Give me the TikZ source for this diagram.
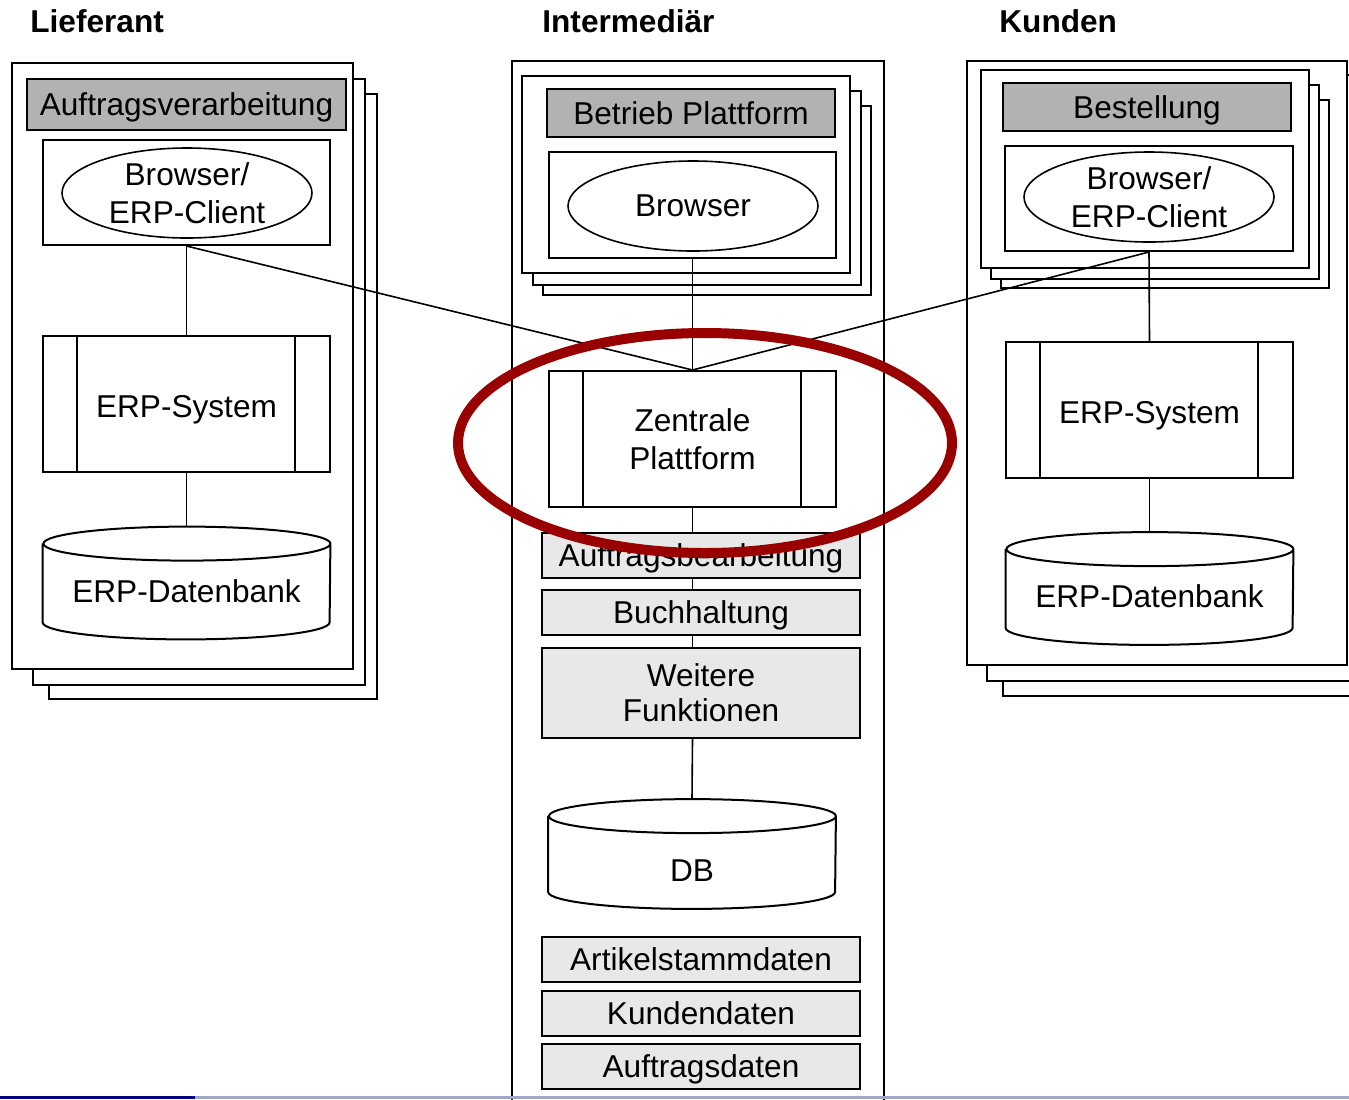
\documentclass[tikz,border=0pt]{standalone}
\usepackage{fontspec}
\setmainfont{Liberation Sans}
\usetikzlibrary{shapes.geometric, positioning, fit}
\newcommand{\mdfont}{\fontsize{15.8}{19}\selectfont}
\definecolor{navybar}{RGB}{0,0,128}
\definecolor{palebar}{RGB}{160,168,200}
\tikzstyle{frame} = [draw, line width=1pt, fill=white, inner sep=0pt]
\tikzstyle{head} = [draw, line width=1pt, fill=black!30, minimum width=144pt, minimum height=24pt, inner sep=0pt, text height=11.3pt, text depth=0pt, font=\mdfont]
\tikzstyle{funcbox} = [draw, line width=1pt, fill=black!9, minimum width=159pt, minimum height=22.5pt, inner sep=0pt, align=center, font=\mdfont]
\tikzstyle{func} = [funcbox, text height=11.3pt, text depth=0pt]
\tikzstyle{client} = [ellipse, draw, line width=0.8pt, minimum width=125pt, minimum height=45pt, inner sep=0pt, align=center, font=\mdfont]
\tikzstyle{system} = [rectangle, draw, line width=1pt, fill=white, minimum width=143.5pt, minimum height=68pt, align=center, font=\mdfont,
  path picture={\draw[line width=1pt] ([xshift=17pt]path picture bounding box.north west) -- ([xshift=17pt]path picture bounding box.south west)
    ([xshift=-17.5pt]path picture bounding box.north east) -- ([xshift=-17.5pt]path picture bounding box.south east);}]
\tikzstyle{db} = [minimum width=143.5pt, minimum height=56pt, inner sep=0pt, text depth=0pt, font=\mdfont,
  append after command={\pgfextra{\draw[line width=1pt]
    ([yshift=-8.5pt]\tikzlastnode.north west) -- ([yshift=8.5pt]\tikzlastnode.south west)
    arc[start angle=180, end angle=360, x radius=71.75pt, y radius=8.5pt]
    -- ([yshift=-8.5pt]\tikzlastnode.north east)
    arc[start angle=0, end angle=180, x radius=71.75pt, y radius=8.5pt]
    arc[start angle=180, end angle=360, x radius=71.75pt, y radius=8.5pt];}}]
\tikzstyle{line} = [line width=0.8pt]
\tikzstyle{title} = [anchor=west, inner sep=0pt, font=\mdfont\bfseries]
\tikzstyle{focus} = [ellipse, draw=red!60!black, line width=5pt, minimum width=247pt, minimum height=110pt, inner sep=0pt]

\begin{document}
\begin{tikzpicture}[x=0.5pt, y=-0.5pt, node distance = 5pt]
		\useasboundingbox (0,0) rectangle (1349,1099);
		\clip (0,0) rectangle (1349,1099);

		% Lieferant
		\node (supplier) [title] at (30,21) {Lieferant};
		\node (lstack3) [frame, fit={(49,94) (377,699)}] {};
		\node (lstack2) [frame, fit={(33,79) (365,685)}] {};
		\node (lstack1) [frame, fit={(12,63) (353,669)}] {};
		\node (lhead) [head, minimum width=159.5pt, minimum height=25.5pt] at (186.5,104.5) {Auftragsverarbeitung};
		\node (lbrowserbox) [frame, fit={(43,140) (330,245)}] {};
		\node (lclient) [client] at (187,193) {Browser/\\ERP-Client};
		\node (lsystem) [system, text height=13.3pt, text depth=0pt] at (186.5,404) {ERP-System};
		\node (ldb) [db, text height=19.3pt] at (186.5,583) {ERP-Datenbank};

		% Intermediaer
		\node (intermediary) [title] at (542,21) {Intermediär};
		\node (mframe) [frame, fit={(512,61) (884,1130)}] {};
		\node (mstack3) [frame, fit={(543,106) (871,295)}] {};
		\node (mstack2) [frame, fit={(533,91) (861,285)}] {};
		\node (mstack1) [frame, fit={(522,76) (850,273)}] {};
		\node (mhead) [head] at (691,113) {Betrieb Plattform};
		\node (mbrowserbox) [frame, fit={(549,152) (836,258)}] {};
		\node (mclient) [client] at (693,206) {Browser};
		\node (platform) [system] at (692.5,439) {Zentrale\\Plattform};
		\node (orders) [func] at (701,555.5) {Auftragsbearbeitung};
		\node (accounting) [func, below = of orders] {Buchhaltung};
		\node (further) [funcbox, below = 5.5pt of accounting, minimum height=45pt, font=\fontsize{15.8}{17.5}\selectfont] {Weitere\\Funktionen};
		\node (mdb) [db, minimum height=54.5pt, text height=27.8pt] at (692,854) {DB};
		\node (articles) [func] at (701,959.5) {Artikelstammdaten};
		\node (customers) [func, below = 3.5pt of articles] {Kundendaten};
		\node (orderdata) [func, below = 3pt of customers] {Auftragsdaten};

		% Kunden
		\node (customer) [title] at (999,21) {Kunden};
		\node (rstack3) [frame, fit={(1003,92) (1390,696)}] {};
		\node (rstack2) [frame, fit={(987,75) (1370,681)}] {};
		\node (rstack1) [frame, fit={(967,61) (1347,665)}] {};
		\node (rin3) [frame, fit={(1001,100) (1329,288)}] {};
		\node (rin2) [frame, fit={(991,85) (1319,279)}] {};
		\node (rin1) [frame, fit={(981,70) (1309,268)}] {};
		\node (rhead) [head] at (1147,107) {Bestellung};
		\node (rbrowserbox) [frame, fit={(1005,146) (1293,251)}] {};
		\node (rclient) [client] at (1149,197) {Browser/\\ERP-Client};
		\node (rsystem) [system, text height=13.3pt, text depth=0pt] at (1149.5,410) {ERP-System};
		\node (rdb) [db, text height=19.3pt] at (1149.5,588.5) {ERP-Datenbank};

		% connectors
		\draw [line] (lbrowserbox.south) -- (lsystem.north);
		\draw [line] (lsystem.south) -- (ldb.north);
		\draw [line] (rbrowserbox.south) -- (rsystem.north);
		\draw [line] (rsystem.south) -- (rdb.north);
		\draw [line] (lbrowserbox.south) -- (platform.north);
		\draw [line] (mbrowserbox.south) -- (platform.north);
		\draw [line] (rbrowserbox.south) -- (platform.north);
		\draw [line] (platform.south) -- (platform.south |- orders.north);
		\draw [line] (platform.south |- orders.south) -- (platform.south |- accounting.north);
		\draw [line] (platform.south |- accounting.south) -- (platform.south |- further.north);
		\draw [line] (platform.south |- further.south) -- (mdb.north);

		\node (highlight) [focus] at (705,443) {};

		\fill [navybar] (0,1096) rectangle (195,1099);
		\fill [palebar] (195,1096) rectangle (1349,1099);
\end{tikzpicture}
\end{document}
